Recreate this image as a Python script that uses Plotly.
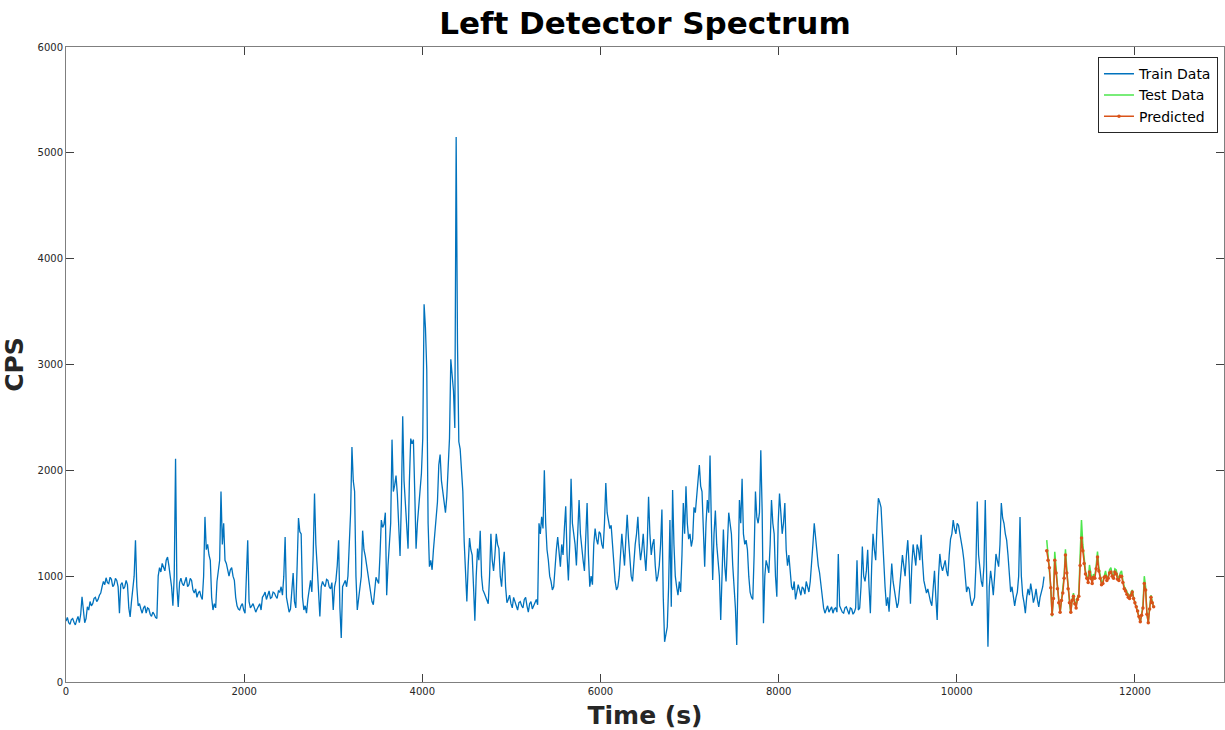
import plotly.graph_objects as go

# ---- data ----
train_step = 15
train_cps = [
    575, 610, 560, 545, 590, 600, 565, 540, 585, 620, 560, 640, 805, 700, 560, 600, 710, 680, 760, 720,
    740, 790, 800, 760, 780, 820, 840, 900, 950, 920, 985, 940, 930, 990, 970, 900, 920, 980, 960, 900,
    650, 920, 940, 880, 900, 960, 920, 700, 615, 760, 880, 1000, 1340, 900, 720, 740, 690, 650, 700, 720,
    650, 700, 690, 640, 620, 660, 640, 610, 600, 1000, 1080, 1040, 1120, 1090, 1050, 1150, 1180, 1100, 1000, 900,
    720, 1000, 2110, 900, 710, 940, 980, 930, 910, 960, 990, 900, 920, 980, 960, 870, 840, 880, 800, 840,
    860, 810, 780, 1000, 1560, 1250, 1300, 1200, 1150, 800, 680, 740, 700, 950, 1050, 1150, 1800, 1300, 1500, 1150,
    1120, 1050, 1000, 1060, 1080, 1000, 960, 800, 720, 690, 680, 720, 740, 680, 650, 1000, 1340, 760, 700, 720,
    740, 700, 660, 690, 720, 740, 680, 800, 820, 850, 780, 830, 860, 790, 800, 850, 840, 810, 790, 860,
    850, 900, 820, 1000, 1370, 800, 720, 660, 690, 880, 1030, 760, 700, 1100, 1550, 1420, 1400, 800, 680, 720,
    650, 780, 900, 960, 850, 1200, 1780, 1300, 1090, 800, 620, 900, 950, 920, 900, 970, 960, 900, 880, 940,
    680, 900, 960, 1100, 1340, 700, 415, 900, 940, 960, 900, 1000, 1300, 1600, 2220, 1900, 1800, 1000, 680, 800,
    880, 1000, 1430, 1250, 1190, 1100, 1000, 900, 810, 760, 730, 900, 990, 960, 930, 1200, 1530, 1460, 1490, 1600,
    820, 1100, 1350, 1500, 2290, 1800, 1860, 1950, 1770, 1400, 1190, 1700, 2510, 1900, 1700, 1500, 1260, 1900, 2300, 2250,
    2290, 1800, 1260, 1500, 1660, 1800, 1970, 2300, 3570, 3350, 2950, 1500, 1090, 1150, 1060, 1250, 1400, 1550, 1700, 2050,
    2150, 1900, 1800, 1700, 1600, 1750, 2000, 2300, 3050, 2850, 2750, 2400, 5150, 3200, 2270, 2200, 2000, 1800, 1330, 1000,
    760, 1100, 1360, 1250, 1200, 900, 580, 1000, 1260, 1150, 1430, 1000, 870, 840, 800, 780, 740, 1000, 1400, 1150,
    1050, 1200, 1400, 1300, 1260, 1000, 900, 1100, 1230, 900, 750, 780, 820, 740, 700, 800, 760, 720, 680, 750,
    760, 720, 700, 780, 800, 720, 660, 740, 760, 690, 720, 760, 780, 730, 1500, 1400, 1560, 1450, 2000, 1500,
    1250, 1150, 1000, 950, 870, 900, 1100, 1250, 1370, 1200, 1090, 1300, 1200, 1450, 1660, 1200, 960, 1300, 1920, 1500,
    1400, 1300, 1100, 1400, 1720, 1400, 1250, 1150, 1050, 1300, 1690, 1200, 900, 1000, 920, 1300, 1450, 1350, 1300, 1420,
    1400, 1300, 1260, 1500, 1880, 1600, 1520, 1450, 1480, 1300, 1100, 950, 870, 900, 1000, 1200, 1400, 1250, 1100, 1350,
    1580, 1350, 1200, 1000, 950, 1150, 1300, 1400, 1560, 1300, 1150, 1250, 1400, 1200, 1050, 1300, 1750, 1400, 1200, 1300,
    1350, 1100, 950, 1000, 1100, 1300, 1630, 800, 380, 450, 520, 900, 1530, 710, 1815, 1300, 1000, 900, 820, 950,
    850, 1200, 1690, 1400, 1850, 1500, 1350, 1400, 1280, 1350, 1650, 1600, 1720, 1900, 2050, 1850, 1800, 1400, 1090, 1500,
    1720, 1600, 2140, 1500, 965, 1400, 1620, 1300, 1150, 1000, 585, 1100, 1440, 1100, 950, 1300, 1600, 1500, 1400, 1100,
    920, 700, 350, 1200, 1720, 1500, 1920, 1400, 1300, 1340, 1250, 1000, 850, 800, 780, 1200, 1800, 1560, 1500, 1600,
    2190, 1625, 555, 1000, 1150, 1100, 1030, 1300, 1720, 1500, 1400, 1000, 806, 1500, 1780, 1600, 1400, 1500, 1690, 1250,
    1100, 1200, 1030, 900, 870, 950, 780, 860, 920, 870, 820, 900, 880, 830, 950, 900, 850, 950, 1100, 1300,
    1500, 1340, 1200, 1100, 1030, 900, 800, 700, 650, 690, 720, 660, 680, 710, 650, 690, 700, 660, 1210, 720,
    690, 660, 650, 700, 710, 670, 640, 700, 690, 640, 660, 700, 1150, 680, 700, 900, 1280, 1000, 950, 1050,
    1250, 900, 650, 1100, 1400, 1250, 1150, 1500, 1736, 1700, 1650, 1400, 1090, 900, 720, 800, 665, 900, 1120, 950,
    850, 800, 700, 750, 880, 1050, 1200, 1100, 1000, 1200, 1340, 1100, 740, 1100, 1300, 1200, 1100, 1300, 1250, 1150,
    1390, 1150, 960, 900, 840, 880, 800, 760, 720, 900, 1050, 800, 586, 1000, 1210, 1100, 1050, 1100, 1150, 1050,
    1000, 1200, 1350, 1400, 1530, 1450, 1400, 1500, 1480, 1400, 1340, 1250, 1150, 950, 850, 900, 880, 780, 720, 760,
    800, 1100, 1705, 1200, 1060, 950, 900, 1100, 1720, 900, 334, 900, 1050, 950, 820, 1000, 1210, 1150, 1090, 1300,
    1690, 1550, 1500, 1400, 1340, 1200, 1030, 850, 900, 780, 720, 800, 850, 1000, 1560, 1000, 820, 750, 650, 800,
    880, 820, 930, 850, 750, 800, 880, 780, 710, 800, 850, 900, 995,
]
train_time = [i * train_step for i in range(len(train_cps))]

test_start = 11010
test_step = 15
test_cps = [
    1340, 1180, 1100, 900, 620, 800, 1230, 1050, 900, 760,
    650, 780, 850, 1000, 1254, 1050, 900, 760, 650, 780,
    840, 760, 720, 800, 830, 1200, 1530, 1300, 1150, 1050,
    1000, 960, 1106, 1000, 950, 1020, 1000, 1100, 1232, 1080,
    1000, 940, 950, 1010, 1050, 980, 1000, 1060, 1080, 1020,
    1000, 1070, 1060, 990, 980, 1030, 1050, 960, 900, 880,
    850, 820, 800, 840, 870, 800, 760, 720, 680, 620,
    560, 640, 720, 1000, 900, 640, 555, 700, 820, 760, 710,
]
pred_cps = [
    1240, 1150, 1080, 890, 640, 790, 1150, 1030, 880, 750,
    660, 770, 840, 980, 1200, 1030, 880, 750, 660, 770,
    810, 740, 700, 780, 810, 1100, 1360, 1240, 1120, 1020,
    980, 940, 1040, 980, 930, 990, 980, 1070, 1180, 1050,
    980, 920, 930, 990, 1000, 960, 980, 1030, 1040, 1000,
    980, 1040, 1020, 970, 960, 1000, 1000, 940, 880, 860,
    830, 800, 790, 820, 850, 790, 750, 710, 670, 620,
    570, 630, 700, 930, 870, 640, 560, 690, 800, 750, 710,
]
test_time = [test_start + i * test_step for i in range(len(test_cps))]

x_ticks = [0, 2000, 4000, 6000, 8000, 10000, 12000]
x_tick_text = ["0", "2000", "4000", "6000", "8000", "10000", "12000"]
y_ticks = [0, 1000, 2000, 3000, 4000, 5000, 6000]
y_tick_text = ["0", "1000", "2000", "3000", "4000", "5000", "6000"]

FONT = "DejaVu Sans"

fig = go.Figure()
fig.add_trace(go.Scatter(
    x=train_time, y=train_cps, mode="lines", name="Train Data",
    line=dict(color="#0072BD", width=1.3),
))
fig.add_trace(go.Scatter(
    x=test_time, y=test_cps, mode="lines", name="Test Data",
    line=dict(color="#4CE64C", width=1.5),
))
fig.add_trace(go.Scatter(
    x=test_time, y=pred_cps, mode="lines+markers", name="Predicted",
    line=dict(color="#D95319", width=1.5),
    marker=dict(color="#D95319", size=3.5),
))

axis_common = dict(
    showgrid=False, zeroline=False, showline=True, linecolor="#7f7f7f",
    linewidth=1, mirror="ticks", ticks="inside", ticklen=8,
    tickcolor="#404040", tickwidth=1,
    tickfont=dict(family=FONT, size=10, color="#262626"),
)

fig.update_layout(
    width=1225, height=730,
    margin=dict(l=66, r=1, t=47, b=48),
    paper_bgcolor="white", plot_bgcolor="white",
    title=dict(
        text="<b>Left Detector Spectrum</b>", x=0.5265, xanchor="center",
        y=0.968, yanchor="middle",
        font=dict(family=FONT, size=31, color="black"),
    ),
    xaxis=dict(
        range=[0, 13000], tickvals=x_ticks, ticktext=x_tick_text,
        title=dict(text="<b>Time (s)</b>", standoff=10,
                   font=dict(family=FONT, size=25, color="#262626")),
        **axis_common,
    ),
    yaxis=dict(
        range=[0, 6000], tickvals=y_ticks, ticktext=y_tick_text,
        title=dict(text="<b>CPS</b>", standoff=12,
                   font=dict(family=FONT, size=25, color="#262626")),
        **axis_common,
    ),
    legend=dict(
        x=0.9948, xanchor="right", y=0.984, yanchor="top",
        bgcolor="white", bordercolor="#262626", borderwidth=1,
        font=dict(family=FONT, size=14, color="black"),
        tracegroupgap=0, itemwidth=30,
    ),
    showlegend=True,
)

fig.write_html("out.html")
